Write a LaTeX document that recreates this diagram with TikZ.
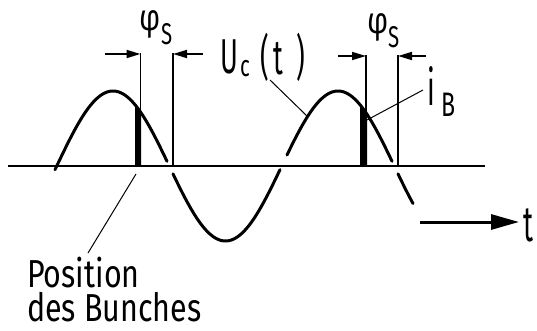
\documentclass[tikz,border=0pt]{standalone}
\usepackage{fontspec}
\setmainfont[FakeStretch=0.78]{Fira Sans}
\newfontfamily\narrowfont[FakeStretch=0.55]{Fira Sans}
\newfontfamily\midfont[FakeStretch=0.68]{Fira Sans}
\usetikzlibrary{arrows.meta}
\begin{document}
\begin{tikzpicture}[x=1pt,y=-1pt,
  declare function={wave(\x)=166-75*cos(1.6*(\x-113));},
  wavestyle/.style={line width=3pt,line cap=round},
  axisstyle/.style={line width=2.6pt},
  marker/.style={line width=1.1pt},
  leader/.style={line width=1pt},
  dimarrow/.style={line width=1.8pt,-{Triangle[length=14pt,width=8pt]}},
  tarrow/.style={line width=3pt,-{Triangle[length=28pt,width=15pt]}},
  lbl/.style={inner sep=0pt,anchor=base west}]
\useasboundingbox (0,0) rectangle (537,331);
% axis
\coordinate (axL) at (8,166);
\coordinate (axR) at (485,166);
\draw[axisstyle] (axL) -- (axR);
% bunch bars
\fill plot[domain=135:141,samples=8] (\x,{wave(\x)}) -- (141,166) -- (135,166) -- cycle;
\fill plot[domain=360:367,samples=8] (\x,{wave(\x)}) -- (367,166) -- (360,166) -- cycle;
% wave segments
\draw[wavestyle] plot[domain=55:167,samples=80] (\x,{wave(\x)});
\draw[wavestyle] plot[domain=173:280,samples=80] (\x,{wave(\x)});
\draw[wavestyle] plot[domain=287:392,samples=80] (\x,{wave(\x)});
\draw[wavestyle] plot[domain=398:413,samples=20] (\x,{wave(\x)});
% vertical markers
\coordinate (v1t) at (140.5,53); \coordinate (v1b) at (140.5,166);
\coordinate (v2t) at (173,53);   \coordinate (v2b) at (173,166);
\coordinate (v3t) at (366,55);   \coordinate (v3b) at (366,166);
\coordinate (v4t) at (398,55);   \coordinate (v4b) at (398,166);
\draw[marker] (v1t) -- (v1b);
\draw[marker] (v2t) -- (v2b);
\draw[marker] (v3t) -- (v3b);
\draw[marker] (v4t) -- (v4b);
% dimension arrows
\coordinate (a1s) at (105,54);  \coordinate (a1e) at (140.5,54);
\coordinate (a2s) at (203,54);  \coordinate (a2e) at (173,54);
\coordinate (a3s) at (338,56);  \coordinate (a3e) at (366,56);
\coordinate (a4s) at (426,56);  \coordinate (a4e) at (398,56);
\draw[dimarrow] (a1s) -- (a1e);
\draw[dimarrow] (a2s) -- (a2e);
\draw[dimarrow] (a3s) -- (a3e);
\draw[dimarrow] (a4s) -- (a4e);
% time arrow
\coordinate (ts) at (420,222);
\coordinate (te) at (519,222);
\draw[tarrow] (ts) -- (te);
\node[lbl,font=\narrowfont\fontsize{50}{50}\selectfont] (tl) at (523,241) {t};
% phi_s labels
\node[lbl,font=\fontsize{37}{37}\selectfont] (phi1) at (139,31) {φ};
\node[lbl,font=\midfont\fontsize{30}{30}\selectfont] (s1) at (161,45) {S};
\node[lbl,font=\fontsize{37}{37}\selectfont] (phi2) at (367,34) {φ};
\node[lbl,font=\midfont\fontsize{30}{30}\selectfont] (s2) at (388,48) {S};
% U_c(t)
\node[lbl,font=\narrowfont\fontsize{49}{49}\selectfont] (U) at (220,74) {U};
\node[lbl,font=\midfont\fontsize{30}{30}\selectfont] (c) at (240,77) {c};
\node[lbl,font=\narrowfont\fontsize{49}{49}\selectfont] (po) at (260,75) {(};
\node[lbl,font=\narrowfont\fontsize{49}{49}\selectfont] (tt) at (273,75) {t};
\node[lbl,font=\narrowfont\fontsize{49}{49}\selectfont] (pc) at (296,75) {)};
\coordinate (uLs) at (270,80);
\coordinate (uLe) at (308,117);
\draw[leader] (uLs) -- (uLe);
% i_B
\node[lbl,font=\narrowfont\fontsize{50}{50}\selectfont] (iB) at (427,106) {i};
\node[lbl,font=\midfont\fontsize{34}{34}\selectfont] (B) at (441,117) {B};
\coordinate (iLs) at (423,90);
\coordinate (iLe) at (367,120);
\draw[leader] (iLs) -- (iLe);
% Position des Bunches
\node[inner sep=0pt,anchor=base west,align=left,font=\fontsize{39}{34}\selectfont] (pos) at (27,321) {Position\\des Bunches};
\coordinate (pLs) at (136,174);
\coordinate (pLe) at (88,253);
\draw[leader] (pLs) -- (pLe);
\end{tikzpicture}
\end{document}
